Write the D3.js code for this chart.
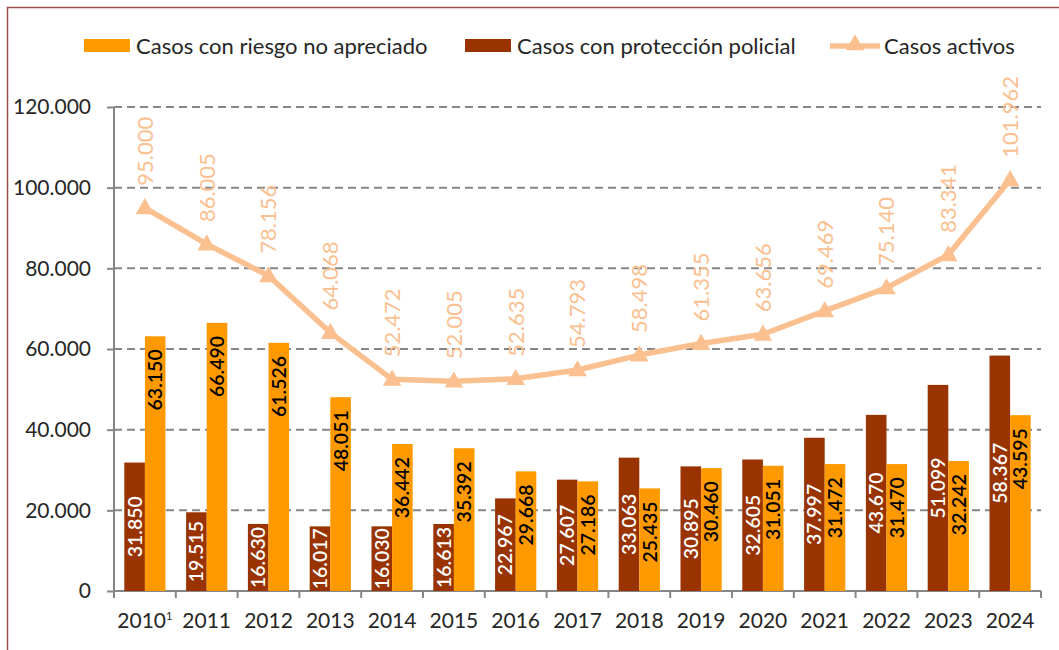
<!DOCTYPE html>
<html>
<head>
<meta charset="utf-8">
<script src="https://cdn.jsdelivr.net/npm/d3@7"></script>
<style>
  html, body { margin: 0; padding: 0; background: #fff; }
  #chart { width: 1059px; height: 650px; }
</style>
</head>
<body>
<div id="chart"></div>
<script>
const years = ["2010", "2011", "2012", "2013", "2014", "2015", "2016", "2017", "2018", "2019", "2020", "2021", "2022", "2023", "2024"];
const riesgoNoApreciado = [63150, 66490, 61526, 48051, 36442, 35392, 29668, 27186, 25435, 30460, 31051, 31472, 31470, 32242, 43595];
const proteccionPolicial = [31850, 19515, 16630, 16017, 16030, 16613, 22967, 27607, 33063, 30895, 32605, 37997, 43670, 51099, 58367];
const casosActivos = [95000, 86005, 78156, 64068, 52472, 52005, 52635, 54793, 58498, 61355, 63656, 69469, 75140, 83341, 101962];
const yTicks = [0, 20000, 40000, 60000, 80000, 100000, 120000];

const C_ORANGE = "#ff9900";
const C_DARK = "#993300";
const C_LINE = "#fac090";
const C_GRID = "#868686";
const FONT = "Lato, 'Open Sans', sans-serif";

const W = 1059, H = 650;
const M = { top: 107, right: 18, bottom: 59, left: 114 };
const iW = W - M.left - M.right;
const iH = H - M.top - M.bottom;

const locale = d3.formatLocale({ decimal: ",", thousands: ".", grouping: [3], currency: ["", ""] });
const fmt = locale.format(",d");

const svg = d3.select("#chart").append("svg")
  .attr("width", W).attr("height", H)
  .style("font-family", FONT);

// frame
svg.append("rect")
  .attr("x", 7.5).attr("y", 7.5)
  .attr("width", W + 20).attr("height", H + 20)
  .attr("fill", "none").attr("stroke", "#a04b4b").attr("stroke-width", 1.5);

const g = svg.append("g").attr("transform", `translate(${M.left},${M.top})`);

const x = d3.scaleBand().domain(years).range([0, iW]);
const xInner = d3.scaleBand().domain(["prot", "riesgo"]).range([0, x.bandwidth()]).paddingOuter(0.5);
const y = d3.scaleLinear().domain([0, 120000]).range([iH, 0]);

// Grid
g.append("g").selectAll("line")
  .data(yTicks.filter(d => d > 0)).enter().append("line")
  .attr("x1", 0).attr("x2", iW)
  .attr("y1", d => y(d)).attr("y2", d => y(d))
  .attr("stroke", C_GRID).attr("stroke-width", 2)
  .attr("stroke-dasharray", "8,5");

// Y axis
g.append("g")
  .call(d3.axisLeft(y).tickValues(yTicks).tickFormat(fmt).tickSize(7).tickPadding(16))
  .call(ax => ax.select(".domain").attr("stroke", C_GRID).attr("stroke-width", 2)
    .attr("d", `M0,${iH}V0`))
  .call(ax => ax.selectAll(".tick line").attr("stroke", C_GRID).attr("stroke-width", 2))
  .call(ax => ax.selectAll("text")
    .style("fill", "#262626").style("font-size", "21px").style("font-family", FONT));

// X axis (ticks between categories)
const xAxis = g.append("g").attr("transform", `translate(0,${iH})`);
xAxis.append("line")
  .attr("x1", 0).attr("x2", iW)
  .attr("stroke", C_GRID).attr("stroke-width", 2);
xAxis.selectAll(".sep")
  .data(d3.range(years.length + 1)).enter().append("line")
  .attr("x1", i => i * x.step()).attr("x2", i => i * x.step())
  .attr("y1", 0).attr("y2", 7)
  .attr("stroke", C_GRID).attr("stroke-width", 2);
const xl = xAxis.selectAll(".yr")
  .data(years).enter().append("text")
  .attr("x", d => x(d) + x.bandwidth() / 2)
  .attr("y", 37)
  .attr("text-anchor", "middle")
  .style("fill", "#262626").style("font-size", "21px");
xl.append("tspan").text(d => d);
xl.filter(d => d === "2010").append("tspan")
  .attr("dy", -8).style("font-size", "11px").text("1");

// Bars
const grp = g.selectAll(".grp").data(years).enter().append("g")
  .attr("transform", d => `translate(${x(d)},0)`);

grp.append("rect")
  .attr("x", xInner("prot"))
  .attr("width", xInner.bandwidth())
  .attr("y", (d, i) => y(proteccionPolicial[i]))
  .attr("height", (d, i) => iH - y(proteccionPolicial[i]))
  .attr("fill", C_DARK);

grp.append("rect")
  .attr("x", xInner("riesgo"))
  .attr("width", xInner.bandwidth())
  .attr("y", (d, i) => y(riesgoNoApreciado[i]))
  .attr("height", (d, i) => iH - y(riesgoNoApreciado[i]))
  .attr("fill", C_ORANGE);

// Bar labels: dark centered (white), orange inside end (black)
grp.append("text")
  .attr("transform", (d, i) => {
    const cx = xInner("prot") + xInner.bandwidth() / 2;
    const cy = (y(proteccionPolicial[i]) + iH) / 2;
    return `translate(${cx},${cy}) rotate(-90)`;
  })
  .attr("text-anchor", "middle").attr("dy", "0.36em")
  .style("fill", "#fff").style("font-size", "19.5px").style("font-weight", 600)
  .text((d, i) => fmt(proteccionPolicial[i]));

grp.append("text")
  .attr("transform", (d, i) => {
    const cx = xInner("riesgo") + xInner.bandwidth() / 2;
    const cy = y(riesgoNoApreciado[i]) + 13;
    return `translate(${cx},${cy}) rotate(-90)`;
  })
  .attr("text-anchor", "end").attr("dy", "0.36em")
  .style("fill", "#000").style("font-size", "19.5px").style("font-weight", 600)
  .text((d, i) => fmt(riesgoNoApreciado[i]));

// Line
const cxLine = d => x(d) + x.bandwidth() / 2;
const line = d3.line()
  .x((_, i) => cxLine(years[i]))
  .y(d => y(d));

g.append("path")
  .datum(casosActivos)
  .attr("fill", "none")
  .attr("stroke", C_LINE)
  .attr("stroke-width", 5.5)
  .attr("stroke-linejoin", "round")
  .attr("d", line);

const tri = d3.symbol().type(d3.symbolTriangle).size(150);
g.selectAll(".mk").data(casosActivos).enter().append("path")
  .attr("d", tri)
  .attr("transform", (d, i) => `translate(${cxLine(years[i])},${y(d) + 1})`)
  .attr("fill", C_LINE);

g.selectAll(".lbl").data(casosActivos).enter().append("text")
  .attr("transform", (d, i) => `translate(${cxLine(years[i])},${y(d) - 22}) rotate(-90)`)
  .attr("text-anchor", "start").attr("dy", "0.36em")
  .style("fill", C_LINE).style("font-size", "22px")
  .text(d => fmt(d));

// Legend
const lg = svg.append("g").style("font-size", "22px").style("fill", "#262626");
const legendItems = [
  { label: "Casos con riesgo no apreciado", type: "bar", color: C_ORANGE, x: 84 },
  { label: "Casos con protección policial", type: "bar", color: C_DARK, x: 465 },
  { label: "Casos activos", type: "line", color: C_LINE, x: 830 }
];
legendItems.forEach(it => {
  if (it.type === "bar") {
    lg.append("rect").attr("x", it.x).attr("y", 39).attr("width", 46).attr("height", 13).attr("fill", it.color);
  } else {
    lg.append("line").attr("x1", it.x).attr("x2", it.x + 50).attr("y1", 46).attr("y2", 46)
      .attr("stroke", it.color).attr("stroke-width", 5.5);
    lg.append("path").attr("d", tri).attr("transform", `translate(${it.x + 25},45)`).attr("fill", it.color);
  }
  lg.append("text")
    .attr("x", it.x + (it.type === "bar" ? 52 : 54))
    .attr("y", 46).attr("dy", "0.35em")
    .text(it.label);
});
</script>
</body>
</html>
